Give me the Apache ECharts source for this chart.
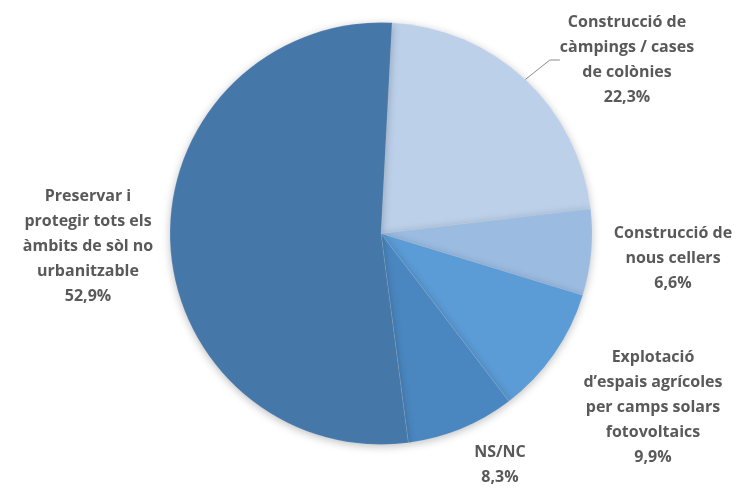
<!DOCTYPE html>
<html><head><meta charset="utf-8">
<script src="https://cdn.jsdelivr.net/npm/echarts@6/dist/echarts.min.js"></script>
<style>html,body{margin:0;padding:0;background:#fff}#c{width:739px;height:487px}</style>
</head><body><div id="c"></div>
<script>
var categories = [
  'Construcció de\ncàmpings / cases\nde colònies',
  'Construcció de\nnous cellers',
  'Explotació\nd\u2019espais agrícoles\nper camps solars\nfotovoltaics',
  'NS/NC',
  'Preservar i\nprotegir tots els\nàmbits de sòl no\nurbanitzable'
];
var values = [22.3, 6.6, 9.9, 8.3, 52.9];
var colors = ['#BCD0EA', '#9BBBE1', '#5B9BD6', '#4A87C0', '#4677A9'];
var labelPos = [[627, 60], [673, 258], [653, 407], [500, 465], [88, 246]];

var data = categories.map(function (c, i) {
  return {
    name: c, value: values[i],
    itemStyle: { color: colors[i] },
    labelLine: { show: i === 0 }
  };
});

var chart = echarts.init(document.getElementById('c'));
chart.setOption({
  animation: false,
  series: [{
    type: 'pie',
    center: [381, 233.5],
    radius: 211,
    startAngle: 87,
    clockwise: true,
    data: data,
    itemStyle: { borderColor: 'rgba(255,255,255,0.2)', borderWidth: 0.5, shadowBlur: 8, shadowColor: 'rgba(0,0,0,0.25)', shadowOffsetY: 2 },
    label: {
      position: 'outside',
      formatter: function (p) { return p.name + '\n' + p.value.toFixed(1).replace('.', ',') + '%'; },
      color: '#595959',
      fontFamily: 'Open Sans',
      fontWeight: 'bold',
      fontSize: 16,
      lineHeight: 25,
      align: 'center',
      overflow: 'none',
      edgeDistance: 0
    },
    labelLine: { lineStyle: { color: '#8c8c8c', width: 1 }, length: 10, length2: 10 },
    labelLayout: function (p) {
      var pos = labelPos[p.dataIndex];
      return { x: pos[0], y: pos[1], align: 'center', verticalAlign: 'middle' };
    }
  }]
});
</script></body></html>
